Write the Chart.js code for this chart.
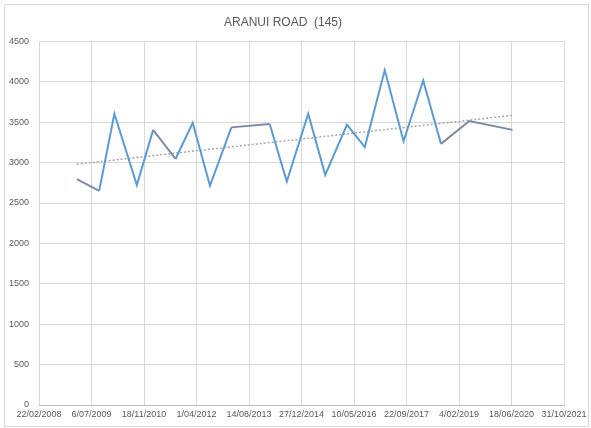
<!DOCTYPE html>
<html>
<head>
<meta charset="utf-8">
<script src="https://cdn.jsdelivr.net/npm/chart.js@4/dist/chart.umd.min.js"></script>
<style>
  html, body { margin: 0; padding: 0; background: #ffffff; }
  #wrap { width: 591px; height: 428px; position: relative; }
</style>
</head>
<body>
<div id="wrap"><canvas id="c" width="591" height="428"></canvas></div>
<script>
// ---- data ----
const chartTitle = "ARANUI ROAD  (145)";
const sampleDates = [
  "2009-02-16", "2009-09-17", "2010-02-09", "2010-09-11", "2011-02-13",
  "2011-09-14", "2012-02-25", "2012-08-07", "2013-02-27", "2014-02-27",
  "2014-08-09", "2015-03-01", "2015-08-10", "2016-03-04", "2016-08-21",
  "2017-02-27", "2017-08-25", "2018-02-28", "2018-08-16", "2019-05-13",
  "2020-06-28"
];
const counts = [
  2795, 2650, 3605, 2722, 3405,
  3045, 3492, 2713, 3436, 3478,
  2765, 3605, 2848, 3470, 3193,
  4145, 3265, 4017, 3232, 3515,
  3405
];
// dotted linear trendline, values at first and last sample date
const trendValues = [2980, 3585];
// x axis ticks: Excel date serials, every 500 days
const xTickMin = 39500;   // 22/02/2008
const xTickMax = 44500;   // 31/10/2021
const xTickStep = 500;
const yTicks = [0, 500, 1000, 1500, 2000, 2500, 3000, 3500, 4000, 4500];
// segments drawn in the darker grey-blue in the reference (index of segment start)
const greySegments = [0, 4, 8, 18, 19];

// ---- helpers ----
const EPOCH = Date.UTC(1899, 11, 30);
function toSerial(iso) {
  const [y, m, d] = iso.split("-").map(Number);
  return Math.round((Date.UTC(y, m - 1, d) - EPOCH) / 86400000);
}
function serialLabel(s) {
  const dt = new Date(EPOCH + s * 86400000);
  const d = dt.getUTCDate();
  const m = String(dt.getUTCMonth() + 1).padStart(2, "0");
  return d + "/" + m + "/" + dt.getUTCFullYear();
}

const points = sampleDates.map((d, i) => ({ x: toSerial(d), y: counts[i] }));
const trend = [
  { x: points[0].x, y: trendValues[0] },
  { x: points[points.length - 1].x, y: trendValues[1] }
];

const borderPlugin = {
  id: "outerBorder",
  beforeDraw(chart) {
    const ctx = chart.ctx;
    ctx.save();
    ctx.fillStyle = "#ffffff";
    ctx.fillRect(0, 0, chart.width, chart.height);
    ctx.strokeStyle = "#d9d9d9";
    ctx.lineWidth = 1;
    ctx.strokeRect(4.5, 4.5, chart.width - 7, chart.height - 6);
    ctx.restore();
  }
};

const TXT = "#595959";
const FONT = "'Liberation Sans', Arial, sans-serif";

new Chart(document.getElementById("c"), {
  type: "line",
  data: {
    datasets: [
      {
        label: "Count",
        data: points,
        borderColor: "#5b9bd5",
        borderWidth: 2,
        pointRadius: 0,
        tension: 0,
        segment: {
          borderColor: ctx => greySegments.includes(ctx.p0DataIndex) ? "#7d8aa6" : "#5b9bd5"
        },
        order: 1
      },
      {
        label: "Linear (Count)",
        data: trend,
        borderColor: "#a6a6a6",
        borderWidth: 1.5,
        borderDash: [2, 2],
        pointRadius: 0,
        order: 2
      }
    ]
  },
  options: {
    responsive: false,
    animation: false,
    devicePixelRatio: 1,
    layout: { padding: { left: 2, right: 27, top: 0, bottom: 0 } },
    plugins: {
      legend: { display: false },
      tooltip: { enabled: false },
      title: {
        display: true,
        text: chartTitle,
        color: TXT,
        font: { family: FONT, size: 12, weight: "normal" },
        padding: { top: 15, bottom: 12 }
      }
    },
    scales: {
      x: {
        type: "linear",
        min: xTickMin,
        max: xTickMax,
        afterBuildTicks(scale) {
          const t = [];
          for (let v = xTickMin; v <= xTickMax; v += xTickStep) t.push({ value: v });
          scale.ticks = t;
        },
        afterFit(scale) { scale.height = 23; },
        ticks: {
          color: TXT,
          font: { family: FONT, size: 9 },
          maxRotation: 0,
          autoSkip: false,
          padding: 4,
          callback: v => serialLabel(v)
        },
        grid: { color: "#d9d9d9", drawTicks: false, lineWidth: 1 },
        border: { color: "#bfbfbf" }
      },
      y: {
        min: 0,
        max: 4500,
        afterBuildTicks(scale) { scale.ticks = yTicks.map(v => ({ value: v })); },
        afterFit(scale) { scale.width = 37; },
        ticks: {
          color: TXT,
          font: { family: FONT, size: 9 },
          padding: 10,
          callback: v => String(v)
        },
        grid: { color: "#d9d9d9", drawTicks: false, lineWidth: 1 },
        border: { display: false }
      }
    }
  },
  plugins: [borderPlugin]
});
</script>
</body>
</html>
